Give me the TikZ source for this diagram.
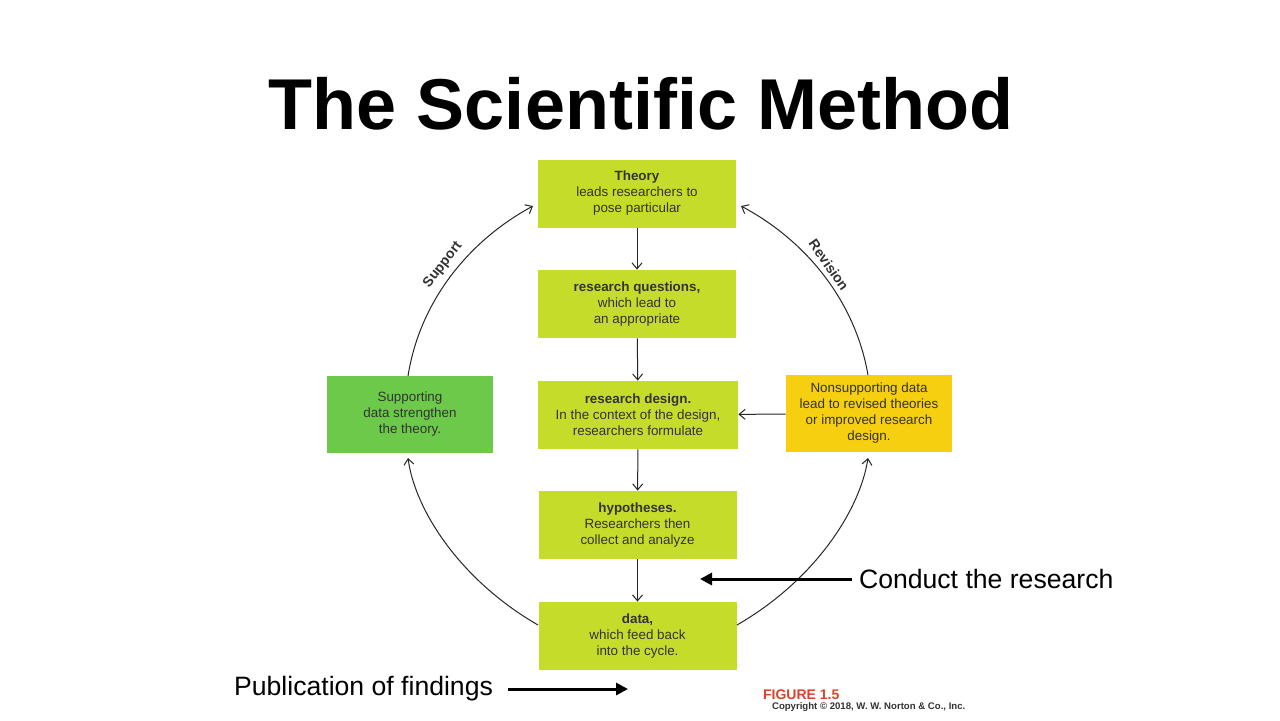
\documentclass[tikz,border=0pt]{standalone}
\usepackage{fontspec}
\setmainfont{Liberation Sans}
\usetikzlibrary{arrows.meta}
\definecolor{lime}{HTML}{C6DC2A}
\definecolor{grn}{HTML}{6CC94A}
\definecolor{yel}{HTML}{F5CF10}
\definecolor{figred}{HTML}{D9442B}
\begin{document}
\begin{tikzpicture}[x=0.5pt,y=-0.5pt,
 box/.style={fill=#1,draw=none,minimum width=99pt,minimum height=34pt,align=center,inner sep=0pt,font=\fontsize{6.7}{8}\selectfont,text=black!80},
 arr/.style={-{Straight Barb[length=3pt,width=5pt]},line width=0.5pt,black!85},
 big/.style={-{Triangle[length=6pt,width=6pt]},line width=1.5pt}]
\useasboundingbox (0,0) rectangle (1280,720);
\fill[white] (0,0) rectangle (1280,720);
\node[font=\fontsize{36}{42}\selectfont\bfseries] (title) at (641,104) {The Scientific Method};
\node[box=lime] (th) at (637,193.5) {\textbf{Theory}\\leads researchers to\\pose particular};
\node[box=lime] (rq) at (637,304) {\textbf{research questions,}\\which lead to\\an appropriate};
\node[box=lime,minimum width=100pt] (rd) at (638,415) {\textbf{research design.}\\In the context of the design,\\researchers formulate};
\node[box=lime] (hy) at (637.5,525) {\textbf{hypotheses.}\\Researchers then\\collect and analyze};
\node[box=lime] (da) at (637.5,636) {\textbf{data,}\\which feed back\\into the cycle.};
\node[box=grn,minimum width=83pt,minimum height=38.5pt] (su) at (410,414.5) {Supporting\\data strengthen\\the theory.};
\node[box=yel,minimum width=83pt,minimum height=38.5pt] (ns) at (869,413.5) {Nonsupporting data\\lead to revised theories\\or improved research\\design.};
\draw[arr] (th) -- (rq);
\draw[arr] (rq) -- (rd);
\draw[arr] (rd) -- (hy);
\draw[arr] (hy) -- (da);
\draw[arr] (ns) -- (rd);
\coordinate (dl) at (538,625); \coordinate (dr) at (737,625);
\coordinate (sb) at (408,458); \coordinate (st) at (408,376);
\coordinate (nb) at (868,458); \coordinate (nt) at (868,375);
\coordinate (tl) at (533,206); \coordinate (tr) at (741,206);
\draw[arr] (dl) .. controls (460,580) and (415,510) .. (sb);
\draw[arr] (st) .. controls (420,300) and (470,240) .. (tl);
\draw[arr] (dr) .. controls (815,580) and (860,510) .. (nb);
\draw[arr] (nt) .. controls (855,300) and (805,240) .. (tr);
\node[rotate=52,font=\fontsize{7}{8}\selectfont\bfseries,text=black!80,inner sep=0pt] (sl) at (443,265) {Support};
\node[rotate=-55,font=\fontsize{7}{8}\selectfont\bfseries,text=black!80,inner sep=0pt] (rl) at (829,265) {Revision};
\node[anchor=west,font=\fontsize{13.3}{15}\selectfont] (cr) at (852,579) {Conduct the research};
\coordinate (ce) at (700,579);
\draw[big] (cr.west) -- (ce);
\node[anchor=east,font=\fontsize{13.3}{15}\selectfont] (pf) at (500,689) {Publication of findings};
\coordinate (pe) at (628,689);
\draw[big] (pf.east) ++(8,0) -- (pe);
\node[anchor=west,font=\fontsize{7}{8}\selectfont\bfseries,text=figred] (fig) at (756,695) {FIGURE 1.5};
\node[anchor=west,font=\fontsize{4.8}{5}\selectfont\bfseries,text=black!80] (cp) at (765,707) {Copyright \textcopyright{} 2018, W. W. Norton \& Co., Inc.};
\end{tikzpicture}
\end{document}
